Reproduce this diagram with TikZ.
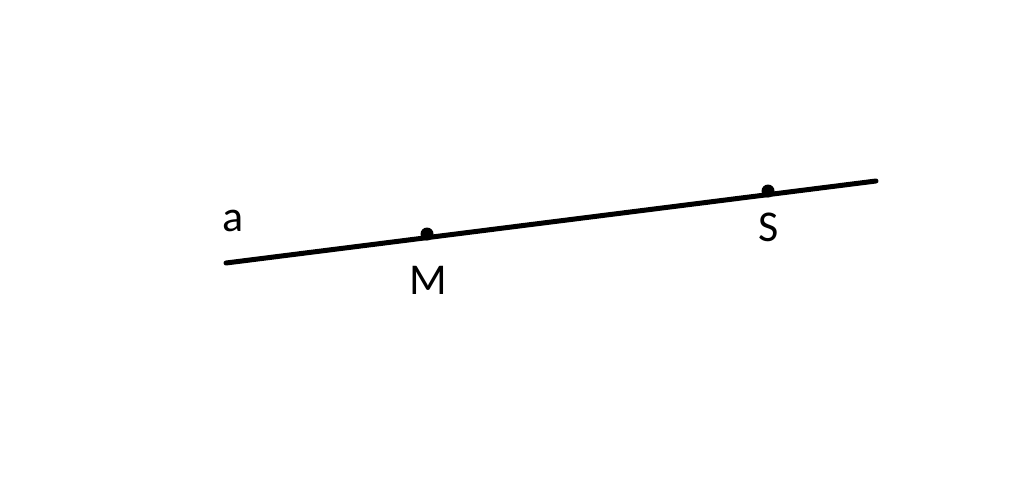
\documentclass[tikz,border=0pt]{standalone}
\usepackage{fontspec}
\setmainfont{Carlito}
\usetikzlibrary{positioning}

\begin{document}
\begin{tikzpicture}[x=1pt,y=-1pt,lbl/.style={inner sep=0pt,font=\fontsize{44}{48}\selectfont}]
		  \useasboundingbox (0,0) rectangle (1024,491);
		  \coordinate (A) at (226,263);
		  \coordinate (B) at (876,181);
		  \coordinate (M) at (427,232);
		  \coordinate (S) at (768,189);

		\tikzset{myline/.style={line width=5pt,line cap=round}}
		\tikzset{mydot/.style={circle,fill=black,inner sep=0pt,minimum size=13pt}}
		\draw[myline] (A) -- (B);
		\node[mydot] (m) at ([yshift=-2]M) {};
		\node[mydot] (s) at ([yshift=-2]S) {};

		\node[lbl] (la) at (233,221) {a};
		\node[lbl] (lm) at (428,280) {M};
		\node[lbl] (ls) at (769,227) {S};
	\end{tikzpicture}
\end{document}
